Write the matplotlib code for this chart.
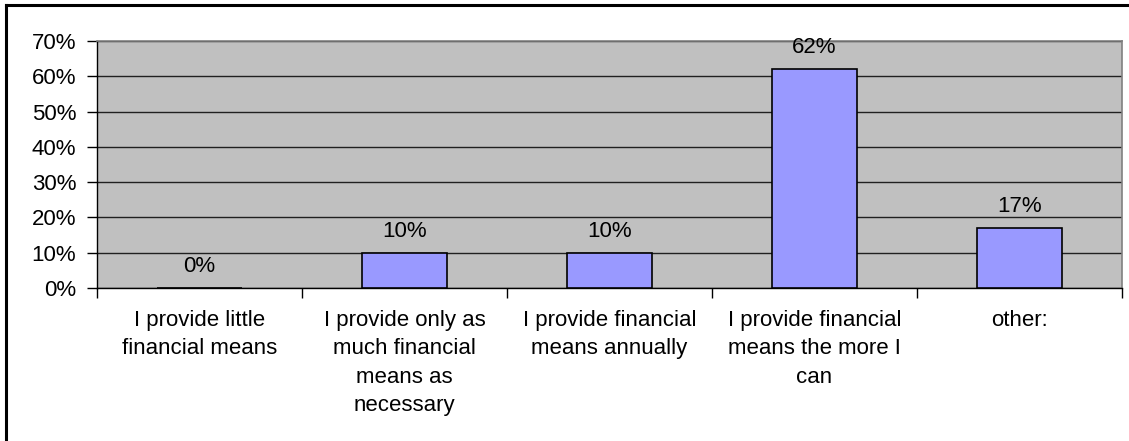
import matplotlib
matplotlib.use("Agg")
import matplotlib.pyplot as plt
from matplotlib.lines import Line2D
from matplotlib.ticker import FixedLocator

plt.rcParams['font.family'] = ['Liberation Sans', 'DejaVu Sans']

categories = [
    "I provide little\nfinancial means",
    "I provide only as\nmuch financial\nmeans as\nnecessary",
    "I provide financial\nmeans annually",
    "I provide financial\nmeans the more I\ncan",
    "other:",
]
values = [0.00, 0.10, 0.10, 0.62, 0.17]
value_labels = ["0%", "10%", "10%", "62%", "17%"]
y_ticks = [0.0, 0.1, 0.2, 0.3, 0.4, 0.5, 0.6, 0.7]
y_tick_labels = ["0%", "10%", "20%", "30%", "40%", "50%", "60%", "70%"]

FS = 16
W, H = 1129, 441
fig = plt.figure(figsize=(W / 100, H / 100), dpi=100)
fig.patch.set_facecolor("white")

# outer chart frame: left and top edges
fig.add_artist(Line2D([6 / W, 6 / W], [0, 1 - 5 / H], transform=fig.transFigure,
                      color="black", linewidth=2.2, solid_capstyle="projecting"))
fig.add_artist(Line2D([6 / W, 1], [1 - 5 / H, 1 - 5 / H], transform=fig.transFigure,
                      color="black", linewidth=2.2, solid_capstyle="projecting"))

ax = fig.add_axes([97 / W, 1 - 288 / H, (1122 - 97) / W, (288 - 41) / H])
ax.set_facecolor("#c0c0c0")

x = list(range(len(categories)))
ax.bar(x, values, width=0.41, color="#9999ff", edgecolor="black",
       linewidth=1.2, zorder=3)
for xi, v, lab in zip(x, values, value_labels):
    ax.annotate(lab, (xi, v), xytext=(0, 8), textcoords="offset points",
                ha="center", va="bottom", fontsize=FS, color="black", zorder=4)

ax.set_xlim(-0.5, len(categories) - 0.5)
ax.set_ylim(0, 0.7)
ax.set_yticks(y_ticks)
ax.set_yticklabels(y_tick_labels, fontsize=FS)
ax.yaxis.grid(True, color="#202020", linewidth=1.0, zorder=1)
ax.set_axisbelow(True)

ax.set_xticks(x)
ax.set_xticklabels(categories, fontsize=FS, linespacing=1.45, va="top")
ax.tick_params(axis="x", which="major", length=0, pad=16)
ax.xaxis.set_minor_locator(FixedLocator([i - 0.5 for i in range(len(categories) + 1)]))
ax.tick_params(axis="x", which="minor", length=7, width=1, color="black",
               direction="out")
ax.tick_params(axis="y", length=7, width=1, color="black", direction="out",
               pad=8)

for side in ("top", "right"):
    ax.spines[side].set_color("#808080")
    ax.spines[side].set_linewidth(1.2)
for side in ("left", "bottom"):
    ax.spines[side].set_color("black")
    ax.spines[side].set_linewidth(1.0)

fig.savefig("out.png", dpi=100, facecolor="white")
